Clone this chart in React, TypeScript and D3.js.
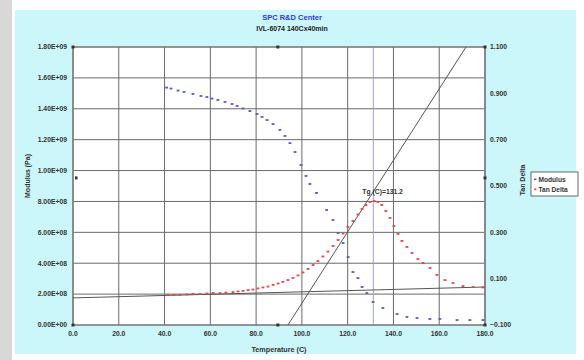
import React from 'react';
import * as d3 from 'd3';

// ---- data ----
const modulusTemp = [40.9, 42.8, 45.9, 48.5, 52.4, 55.9, 58.5, 60.7, 63.3, 66.4, 69.5, 71.7, 74.3, 77.3, 80.4, 82.6, 84.8, 87.4, 90.4, 92.6, 94.8, 97.0, 99.6, 101.8, 103.5, 106.4, 110.8, 113.6, 115.8, 118.0, 120.2, 122.3, 124.5, 126.3, 128.4, 131.1, 135.4, 141.6, 145.9, 150.3, 155.9, 160.3, 167.8, 173.4, 179.1];
const modulusPa = [1.537e9, 1.531e9, 1.518e9, 1.509e9, 1.496e9, 1.483e9, 1.476e9, 1.466e9, 1.457e9, 1.444e9, 1.431e9, 1.418e9, 1.402e9, 1.385e9, 1.366e9, 1.347e9, 1.327e9, 1.301e9, 1.263e9, 1.224e9, 1.178e9, 1.12e9, 1.036e9, 0.965e9, 0.913e9, 0.855e9, 0.745e9, 0.68e9, 0.596e9, 0.531e9, 0.44e9, 0.343e9, 0.304e9, 0.246e9, 0.207e9, 0.149e9, 0.11e9, 0.071e9, 0.052e9, 0.045e9, 0.039e9, 0.039e9, 0.032e9, 0.032e9, 0.032e9];

const tanTemp = [41.5, 44.1, 46.7, 49.8, 52.4, 55.5, 58.5, 61.2, 64.2, 66.8, 69.9, 72.1, 74.3, 76.5, 78.6, 80.8, 83.0, 85.2, 87.4, 89.6, 91.7, 93.9, 96.1, 98.3, 100.5, 102.7, 104.9, 107.0, 109.2, 111.4, 113.6, 115.8, 118.0, 120.1, 122.3, 124.5, 126.3, 128.0, 129.8, 131.6, 133.2, 134.9, 136.7, 138.5, 140.2, 142.0, 143.7, 145.9, 148.1, 150.7, 152.9, 156.0, 159.0, 162.5, 166.0, 170.4, 174.8, 179.1];
const tanDelta = [0.030, 0.030, 0.030, 0.032, 0.034, 0.034, 0.036, 0.038, 0.038, 0.040, 0.042, 0.045, 0.047, 0.051, 0.053, 0.058, 0.062, 0.066, 0.073, 0.079, 0.086, 0.094, 0.103, 0.114, 0.127, 0.142, 0.159, 0.176, 0.196, 0.217, 0.241, 0.267, 0.295, 0.323, 0.349, 0.377, 0.401, 0.418, 0.431, 0.435, 0.431, 0.418, 0.392, 0.362, 0.327, 0.293, 0.263, 0.237, 0.211, 0.185, 0.168, 0.146, 0.116, 0.094, 0.081, 0.068, 0.064, 0.062];

const baselineTemp = [0, 180];
const baselineTan = [0.017, 0.064];
const tangentTemp = [93.9, 171.7];
const tangentTan = [-0.1, 1.1];
const tgValue = 131.2;
const crossTemp = 89.5;
const crossTan = 0.535;

const xTicks = [0, 20, 40, 60, 80, 100, 120, 140, 160, 180];
const leftTicks = [0, 2e8, 4e8, 6e8, 8e8, 1e9, 1.2e9, 1.4e9, 1.6e9, 1.8e9];
const rightTicks = [-0.1, 0.1, 0.3, 0.5, 0.7, 0.9, 1.1];

const titleText = 'SPC R&D Center';
const subtitleText = 'IVL-6074 140Cx40min';
const seriesNames = ['Modulus', 'Tan Delta'];

// ---- layout ----
const W = 584, H = 360;
const L = 73, R = 485, T = 47, B = 325;
const FONT = '"Liberation Sans", Arial, sans-serif';
const BLUE = '#5a5ab4';
const RED = '#e04848';
const GRID = '#6a6a6a';
const TXT = '#333';

const fmtE = (v: number) => {
  const s = v.toExponential(2).toUpperCase();
  const [m, e] = s.split('E');
  const sign = e[0];
  const digits = e.slice(1).padStart(2, '0');
  return `${m}E${sign}${digits}`;
};

export default function App() {
  const x = d3.scaleLinear().domain([0, 180]).range([L, R]);
  const yL = d3.scaleLinear().domain([0, 1.8e9]).range([B, T]);
  const yR = d3.scaleLinear().domain([-0.1, 1.1]).range([B, T]);
  const fx = d3.format('.1f');
  const fr = d3.format('.3f');
  const line = d3.line<[number, number]>();

  const baseline = line(baselineTemp.map((t, i) => [x(t), yR(baselineTan[i])]));
  const tangent = line(tangentTemp.map((t, i) => [x(t), yR(tangentTan[i])]));

  const cornerDots: [number, number][] = [[L, T], [R, T], [L, B], [R, B]];

  return (
    <svg width={W} height={H} style={{ position: 'absolute', left: 0, top: 0 }} fontFamily={FONT}>
      <rect x={0} y={0} width={W} height={H} fill="#ffffff" />
      <rect x={0} y={0} width={12} height={H} fill="#d8d8d8" />
      <rect x={15} y={10} width={561} height={344} fill="#cbf6fa" />
      <rect x={L} y={T} width={R - L} height={B - T} fill="#ffffff" />

      {/* grid */}
      {xTicks.map((t) => (
        <line key={'gx' + t} x1={x(t)} x2={x(t)} y1={T} y2={B} stroke={GRID} strokeWidth={1} />
      ))}
      {leftTicks.map((t) => (
        <line key={'gy' + t} x1={L} x2={R} y1={yL(t)} y2={yL(t)} stroke={GRID} strokeWidth={1} />
      ))}
      <line x1={x(tgValue)} x2={x(tgValue)} y1={T} y2={B} stroke="#a0a0cc" strokeWidth={1} />

      {/* border / axes */}
      <rect x={L} y={T} width={R - L} height={B - T} fill="none" stroke="#777" strokeWidth={1} />
      <line x1={R} x2={R} y1={T} y2={B} stroke="#888" strokeWidth={2} />
      <line x1={L} x2={L} y1={T} y2={B} stroke="#888" strokeWidth={1.2} />

      {/* tangent lines */}
      <path d={baseline || ''} stroke="#555" strokeWidth={1} fill="none" />
      <path d={tangent || ''} stroke="#555" strokeWidth={1} fill="none" />

      {/* auxiliary markers */}
      <rect x={x(crossTemp) - 1.5} y={T - 1.5} width={3} height={3} fill="#333" />
      <rect x={x(crossTemp) - 1.5} y={B - 1.5} width={3} height={3} fill="#333" />
      <rect x={L + 2} y={yR(crossTan) - 1.5} width={2.5} height={3} fill="#333" />
      <rect x={R - 1.5} y={yR(crossTan) - 1.5} width={3} height={3} fill="#333" />
      {cornerDots.map(([cx, cy], i) => (
        <rect key={'c' + i} x={cx - 1.5} y={cy - 1.5} width={3} height={3} fill="#333" />
      ))}

      {/* series */}
      {modulusTemp.map((t, i) => (
        <rect key={'m' + i} x={x(t) - 1.4} y={yL(modulusPa[i]) - 0.9} width={2.8} height={1.8} fill={BLUE} />
      ))}
      {tanTemp.map((t, i) => (
        <rect key={'d' + i} x={x(t) - 1.4} y={yR(tanDelta[i]) - 0.9} width={2.8} height={1.8} fill={RED} />
      ))}

      {/* Tg label */}
      <text x={x(tgValue) - 11} y={194} fontSize={6.8} fontWeight="bold" fill={TXT}>
        Tg (C)=131.2
      </text>

      {/* x tick labels */}
      {xTicks.map((t) => (
        <text key={'tx' + t} x={x(t)} y={336} fontSize={6.8} fontWeight="bold" fill={TXT} textAnchor="middle">
          {fx(t)}
        </text>
      ))}
      {leftTicks.map((t) => (
        <text key={'tl' + t} x={67} y={yL(t) + 2.3} fontSize={6.8} fontWeight="bold" fill={TXT} textAnchor="end">
          {fmtE(t)}
        </text>
      ))}
      {rightTicks.map((t) => (
        <text key={'tr' + t} x={490} y={yR(t) + 2.3} fontSize={6.8} fontWeight="bold" fill={TXT}>
          {fr(t)}
        </text>
      ))}

      {/* titles */}
      <text x={292} y={20} fontSize={7.5} fontWeight="bold" fill="#2a3ad8" textAnchor="middle">{titleText}</text>
      <text x={292} y={31} fontSize={7} fontWeight="bold" fill="#222" textAnchor="middle">{subtitleText}</text>
      <text x={279} y={352} fontSize={7.2} fontWeight="bold" fill={TXT} textAnchor="middle">Temperature (C)</text>
      <text transform={`translate(30,${176}) rotate(-90)`} fontSize={7} fontWeight="bold" fill={TXT} textAnchor="middle">Modulus (Pa)</text>
      <text transform={`translate(525,${180}) rotate(-90)`} fontSize={7} fontWeight="bold" fill={TXT} textAnchor="middle">Tan Delta</text>

      {/* legend */}
      <rect x={531} y={172} width={47} height={24} fill="#ffffff" stroke="#444" strokeWidth={0.8} />
      <rect x={534} y={178.5} width={2.4} height={1.6} fill={BLUE} />
      <text x={538.5} y={181.8} fontSize={6.6} fontWeight="bold" fill={TXT}>{seriesNames[0]}</text>
      <rect x={534} y={188.5} width={2.4} height={1.6} fill={RED} />
      <text x={538.5} y={191.8} fontSize={6.6} fontWeight="bold" fill={TXT}>{seriesNames[1]}</text>
    </svg>
  );
}
